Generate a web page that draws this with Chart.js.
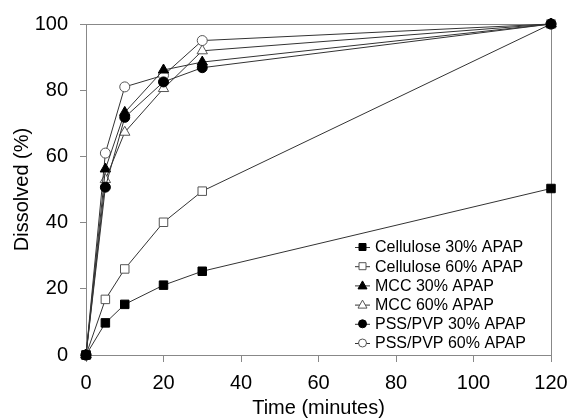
<!DOCTYPE html>
<html>
<head>
<meta charset="utf-8">
<script src="https://cdn.jsdelivr.net/npm/chart.js@4.4.1/dist/chart.umd.min.js"></script>
<style>
  html, body { margin: 0; padding: 0; background: #fff; }
  #wrap { width: 571px; height: 419px; position: relative; }
</style>
</head>
<body>
<div id="wrap"><canvas id="chart"></canvas></div>
<script>
// sampling times (minutes)
const times = [0, 5, 10, 20, 30, 120];

// dissolved (%)
const cellulose30 = [0, 9.7, 15.3, 21.1, 25.3, 50.3];
const cellulose60 = [0, 16.8, 26.0, 40.1, 49.5, 100];
const mcc30 = [0, 56.2, 73.3, 86.1, 88.5, 100];
const mcc60 = [0, 53.0, 67.3, 80.5, 91.9, 100];
const pss30 = [0, 50.7, 71.8, 82.5, 86.8, 100];
const pss60 = [0, 61.0, 81.0, 84.5, 95.0, 100];

const xTicks = [0, 20, 40, 60, 80, 100, 120];
const yTicks = [0, 20, 40, 60, 80, 100];

const lineColor = '#333';
const axisColor = '#888';

function series(label, values, style, filled, order) {
  return {
    label: label,
    data: times.map((t, i) => ({ x: t, y: values[i] })),
    borderColor: lineColor,
    borderWidth: 1,
    pointStyle: style,
    pointRadius: style === 'circle' ? 5 : 6,
    pointBackgroundColor: filled ? '#000' : '#fff',
    pointBorderColor: filled ? '#000' : '#555',
    pointBorderWidth: 1,
    fill: false,
    tension: 0,
    clip: 10,
    order: order,
    filled: filled
  };
}

const datasets = [
  series('Cellulose 30% APAP', cellulose30, 'rect', true, 0),
  series('Cellulose 60% APAP', cellulose60, 'rect', false, 5),
  series('MCC 30% APAP', mcc30, 'triangle', true, 2),
  series('MCC 60% APAP', mcc60, 'triangle', false, 4),
  series('PSS/PVP 30% APAP', pss30, 'circle', true, 1),
  series('PSS/PVP 60% APAP', pss60, 'circle', false, 3)
];

// frame on top/right and legend inside the plot
const extras = {
  id: 'extras',
  beforeDatasetsDraw(chart) {
    const ctx = chart.ctx;
    const a = chart.chartArea;
    ctx.save();
    ctx.strokeStyle = axisColor;
    ctx.lineWidth = 1;
    ctx.beginPath();
    ctx.moveTo(a.left, a.top + 0.5);
    ctx.lineTo(a.right + 0.5, a.top + 0.5);
    ctx.lineTo(a.right + 0.5, a.bottom);
    ctx.stroke();
    ctx.restore();
  },
  afterDraw(chart) {
    const ctx = chart.ctx;
    ctx.save();
    const lx = 355, tx = 375;
    let ly = 247;
    ctx.font = '16px "Liberation Sans", Arial, sans-serif';
    ctx.textBaseline = 'middle';
    ctx.lineWidth = 1;
    chart.data.datasets.forEach(ds => {
      ctx.strokeStyle = lineColor;
      ctx.beginPath();
      ctx.moveTo(lx, ly + 0.5);
      ctx.lineTo(lx + 15, ly + 0.5);
      ctx.stroke();
      const cx = lx + 7.5;
      ctx.beginPath();
      if (ds.pointStyle === 'rect') {
        ctx.rect(cx - 3.5, ly - 3.5, 7, 7);
      } else if (ds.pointStyle === 'triangle') {
        ctx.moveTo(cx, ly - 4.5);
        ctx.lineTo(cx + 4.5, ly + 3.5);
        ctx.lineTo(cx - 4.5, ly + 3.5);
        ctx.closePath();
      } else {
        ctx.arc(cx, ly, 4, 0, Math.PI * 2);
      }
      ctx.fillStyle = ds.filled ? '#000' : '#fff';
      ctx.fill();
      ctx.strokeStyle = ds.filled ? '#000' : '#555';
      ctx.stroke();
      ctx.fillStyle = '#000';
      ctx.fillText(ds.label, tx, ly + 1);
      ly += 19.2;
    });
    ctx.restore();
  }
};

const font20 = { family: '"Liberation Sans", Arial, sans-serif', size: 20 };

new Chart(document.getElementById('chart').getContext('2d'), {
  type: 'line',
  data: { datasets: datasets },
  options: {
    responsive: true,
    maintainAspectRatio: false,
    animation: false,
    layout: { autoPadding: false, padding: { top: 23, right: 20, left: 0, bottom: 0 } },
    plugins: { legend: { display: false }, tooltip: { enabled: false } },
    scales: {
      x: {
        type: 'linear',
        min: 0,
        max: 120,
        afterBuildTicks: s => { s.ticks = xTicks.map(v => ({ value: v })); },
        afterFit: s => { s.height = 64; s.paddingRight = 0; },
        grid: { drawOnChartArea: false, drawTicks: true, tickLength: 7, color: axisColor },
        border: { color: axisColor },
        ticks: { color: '#000', font: font20, padding: 9, maxRotation: 0 },
        title: {
          display: true,
          text: 'Time (minutes)',
          color: '#000',
          font: { family: font20.family, size: 20, lineHeight: 1 },
          padding: { top: 0, bottom: 1 }
        }
      },
      y: {
        min: 0,
        max: 100,
        afterBuildTicks: s => { s.ticks = yTicks.map(v => ({ value: v })); },
        afterFit: s => { s.width = 86; },
        grid: { drawOnChartArea: false, drawTicks: true, tickLength: 6, color: axisColor },
        border: { color: axisColor },
        ticks: { color: '#000', font: font20, padding: 12 },
        title: {
          display: true,
          text: 'Dissolved (%)',
          color: '#000',
          font: { family: font20.family, size: 20, lineHeight: 1.2 },
          padding: { top: 10, bottom: 0 }
        }
      }
    }
  },
  plugins: [extras]
});
</script>
</body>
</html>
